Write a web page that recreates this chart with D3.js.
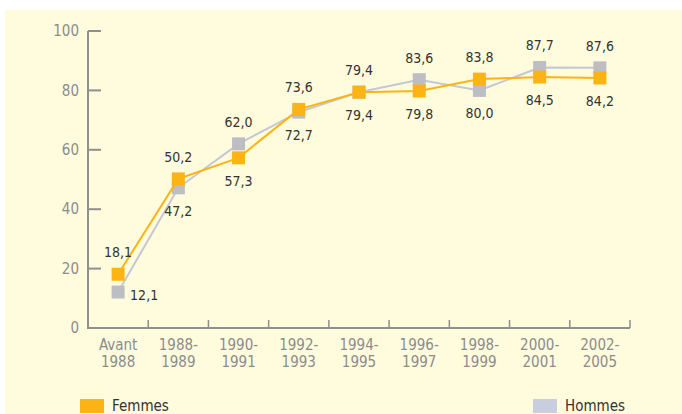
<!DOCTYPE html>
<html lang="fr">
<head>
<meta charset="utf-8">
<title>Femmes / Hommes</title>
<script src="https://d3js.org/d3.v7.min.js"></script>
<style>
  body { margin: 0; background: #fff; }
  svg { display: block; }
  text { font-family: "Liberation Sans Narrow", "DejaVu Sans Condensed", sans-serif; }
</style>
</head>
<body>
<script>
// categories and series values
var periods = [["Avant", "1988"], ["1988-", "1989"], ["1990-", "1991"], ["1992-", "1993"],
               ["1994-", "1995"], ["1996-", "1997"], ["1998-", "1999"], ["2000-", "2001"], ["2002-", "2005"]];
var femmes = [18.1, 50.2, 57.3, 73.6, 79.4, 79.8, 83.8, 84.5, 84.2];
var hommes = [12.1, 47.2, 62.0, 72.7, 79.4, 83.6, 80.0, 87.7, 87.6];
// where each value label sits: "up", "down" or "right"
var femmesPos = ["up", "up", "down", "up", "down", "down", "up", "down", "down"];
var hommesPos = ["right", "down", "up", "down", "up", "up", "down", "up", "up"];
var yTicks = [0, 20, 40, 60, 80, 100];

var W = 682, H = 414;
var svg = d3.select("body").append("svg").attr("width", W).attr("height", H);

// pale yellow panel
svg.append("rect").attr("x", 5).attr("y", 10).attr("width", W - 5).attr("height", H - 10)
   .attr("fill", "#fffbdd");

var x = d3.scaleBand().domain(d3.range(periods.length)).range([88, 630]);
var y = d3.scaleLinear().domain([0, 100]).range([328, 31]);

var axisCol = "#8f8f8f";
var fmt = function (v) { return d3.format(".1f")(v).replace(".", ","); };

// y axis
var yAxis = svg.append("g");
yAxis.append("line").attr("x1", 88).attr("x2", 88).attr("y1", y(100)).attr("y2", y(0))
     .attr("stroke", axisCol).attr("stroke-width", 2);
yAxis.selectAll("line.t").data(yTicks).enter().append("line")
     .attr("x1", 88).attr("x2", 101).attr("y1", function (d) { return y(d); })
     .attr("y2", function (d) { return y(d); })
     .attr("stroke", axisCol).attr("stroke-width", 2);
yAxis.selectAll("text").data(yTicks).enter().append("text")
     .attr("x", 79).attr("y", function (d) { return y(d); }).attr("dy", "0.35em")
     .attr("text-anchor", "end").attr("fill", "#8c8c8c").attr("font-size", 15)
     .text(function (d) { return d; });

// x axis
var xAxis = svg.append("g");
xAxis.append("line").attr("x1", 87).attr("x2", 630).attr("y1", y(0)).attr("y2", y(0))
     .attr("stroke", axisCol).attr("stroke-width", 2);
xAxis.selectAll("line.t").data(d3.range(1, periods.length + 1)).enter().append("line")
     .attr("x1", function (i) { return x(i - 1) + x.bandwidth(); })
     .attr("x2", function (i) { return x(i - 1) + x.bandwidth(); })
     .attr("y1", y(0)).attr("y2", y(0) - 8)
     .attr("stroke", axisCol).attr("stroke-width", 1.5);
var xl = xAxis.selectAll("text").data(periods).enter().append("text")
     .attr("text-anchor", "middle").attr("fill", "#8c8c8c").attr("font-size", 15);
xl.append("tspan").attr("x", function (d, i) { return x(i) + x.bandwidth() / 2; })
  .attr("y", 350).text(function (d) { return d[0]; });
xl.append("tspan").attr("x", function (d, i) { return x(i) + x.bandwidth() / 2; })
  .attr("y", 367).text(function (d) { return d[1]; });

function drawSeries(vals, pos, lineCol, markCol) {
  var cx = function (d, i) { return x(i) + x.bandwidth() / 2; };
  var line = d3.line().x(cx).y(function (d) { return y(d); });
  svg.append("path").datum(vals).attr("d", line).attr("fill", "none")
     .attr("stroke", lineCol).attr("stroke-width", 2);
  svg.selectAll(null).data(vals).enter().append("rect")
     .attr("x", function (d, i) { return cx(d, i) - 6.5; })
     .attr("y", function (d) { return y(d) - 6.5; })
     .attr("width", 13).attr("height", 13).attr("fill", markCol);
  svg.selectAll(null).data(vals).enter().append("text")
     .attr("x", function (d, i) { return pos[i] === "right" ? cx(d, i) + 12 : cx(d, i); })
     .attr("y", function (d, i) {
       if (pos[i] === "up") return y(d) - 22;
       if (pos[i] === "down") return y(d) + 23;
       return y(d) + 3;
     })
     .attr("dy", "0.35em")
     .attr("text-anchor", function (d, i) { return pos[i] === "right" ? "start" : "middle"; })
     .attr("fill", "#333").attr("font-size", 14)
     .text(function (d) { return fmt(d); });
}

drawSeries(hommes, hommesPos, "#c3c7d6", "#bdbdc4");
drawSeries(femmes, femmesPos, "#fbb414", "#fbb414");

// legend
var legend = [["Femmes", "#fbb414", 80], ["Hommes", "#c8cede", 533]];
legend.forEach(function (l) {
  svg.append("rect").attr("x", l[2]).attr("y", 399).attr("width", 24).attr("height", 14)
     .attr("fill", l[1]);
  svg.append("text").attr("x", l[2] + 32).attr("y", 406).attr("dy", "0.35em")
     .attr("fill", "#333").attr("font-size", 15).text(l[0]);
});
</script>
</body>
</html>
